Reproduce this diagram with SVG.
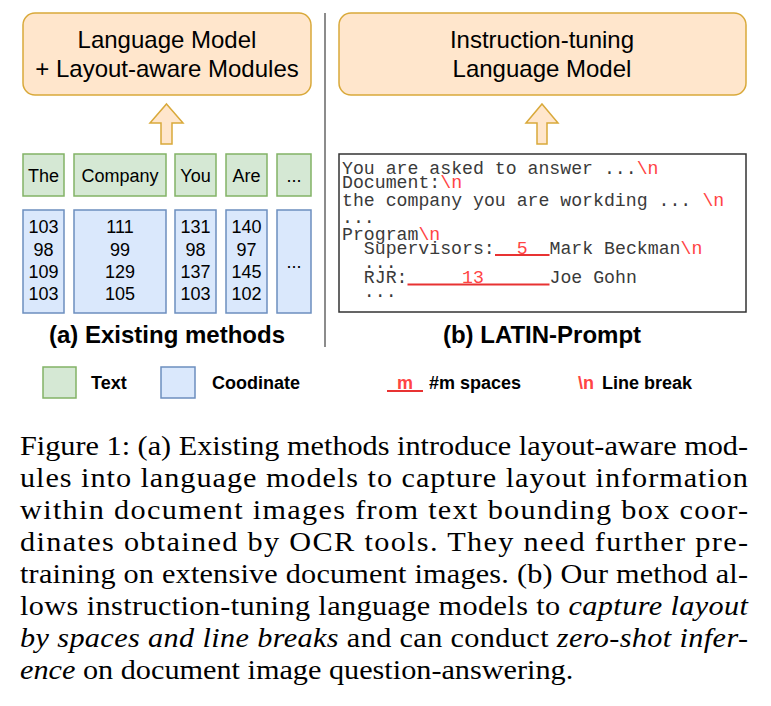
<svg xmlns="http://www.w3.org/2000/svg" width="771" height="706" viewBox="0 0 771 706">
<style>
.top{fill:#ffe6cc;stroke:#d9a93a;stroke-width:1.5}
.arr{fill:#ffe6cc;stroke:#d9a93a;stroke-width:1.5}
.grn{fill:#d5e8d4;stroke:#82b366;stroke-width:1.5}
.blu{fill:#dae8fc;stroke:#6c8ebf;stroke-width:1.5}
.sans{font-family:"Liberation Sans",Arial,sans-serif;fill:#000}
.big{font-size:24px}
.mid{font-size:18px}
.bold{font-weight:bold}
.mono{font-family:"Liberation Mono","Courier New",monospace;font-size:18.2px;fill:#3a3a3a}
.red{fill:#f44}
.ul{stroke:#e83232;stroke-width:2}
.cap{font-family:"Liberation Serif","Times New Roman",serif;font-size:27.5px;fill:#000}
.it{font-style:italic}
</style>

<g id="divider"><line x1="325" y1="13" x2="325" y2="347" stroke="#666" stroke-width="1.5"/></g>

<g id="lm-left">
<rect class="top" x="23" y="13" width="288" height="82" rx="12"/>
<text class="sans big" x="167" y="48" text-anchor="middle">Language Model</text>
<text class="sans big" x="167" y="77" text-anchor="middle">+ Layout-aware Modules</text>
</g>

<g id="lm-right">
<rect class="top" x="339" y="13" width="407" height="82" rx="12"/>
<text class="sans big" x="542" y="48" text-anchor="middle">Instruction-tuning</text>
<text class="sans big" x="542" y="77" text-anchor="middle">Language Model</text>
</g>

<g id="connectors">
<path class="arr" d="M166.5,104 L183,123 L172,123 L172,144 L161,144 L161,123 L150,123 Z"/>
<path class="arr" d="M542,104 L558,123 L547,123 L547,144 L537,144 L537,123 L526,123 Z"/>
</g>

<g id="tok-the"><rect class="grn" x="23" y="154" width="41" height="42"/><text class="sans mid" x="43.5" y="182" text-anchor="middle">The</text></g>
<g id="tok-company"><rect class="grn" x="74" y="154" width="92" height="42"/><text class="sans mid" x="120" y="182" text-anchor="middle">Company</text></g>
<g id="tok-you"><rect class="grn" x="175" y="154" width="41" height="42"/><text class="sans mid" x="195.5" y="182" text-anchor="middle">You</text></g>
<g id="tok-are"><rect class="grn" x="226" y="154" width="41" height="42"/><text class="sans mid" x="246.5" y="182" text-anchor="middle">Are</text></g>
<g id="tok-more"><rect class="grn" x="277" y="154" width="34" height="42"/><text class="sans mid" x="294" y="182" text-anchor="middle">...</text></g>

<g id="coord-the"><rect class="blu" x="23" y="210" width="41" height="103"/>
<text class="sans mid" text-anchor="middle"><tspan x="43.5" y="233">103</tspan><tspan x="43.5" y="255.5">98</tspan><tspan x="43.5" y="278">109</tspan><tspan x="43.5" y="300">103</tspan></text></g>
<g id="coord-company"><rect class="blu" x="74" y="210" width="92" height="103"/>
<text class="sans mid" text-anchor="middle"><tspan x="120" y="233">111</tspan><tspan x="120" y="255.5">99</tspan><tspan x="120" y="278">129</tspan><tspan x="120" y="300">105</tspan></text></g>
<g id="coord-you"><rect class="blu" x="175" y="210" width="41" height="103"/>
<text class="sans mid" text-anchor="middle"><tspan x="195.5" y="233">131</tspan><tspan x="195.5" y="255.5">98</tspan><tspan x="195.5" y="278">137</tspan><tspan x="195.5" y="300">103</tspan></text></g>
<g id="coord-are"><rect class="blu" x="226" y="210" width="41" height="103"/>
<text class="sans mid" text-anchor="middle"><tspan x="246.5" y="233">140</tspan><tspan x="246.5" y="255.5">97</tspan><tspan x="246.5" y="278">145</tspan><tspan x="246.5" y="300">102</tspan></text></g>
<g id="coord-more"><rect class="blu" x="277" y="210" width="34" height="103"/>
<text class="sans mid" x="294" y="268" text-anchor="middle">...</text></g>

<g id="label-a"><text class="sans big bold" x="167" y="343" text-anchor="middle">(a) Existing methods</text></g>

<g id="prompt">
<rect x="339" y="154" width="407" height="158" fill="#fff" stroke="#333" stroke-width="1.5"/>
<text class="mono" x="342" y="174">You are asked to answer ...<tspan class="red">\n</tspan></text>
<text class="mono" x="342" y="188">Document:<tspan class="red">\n</tspan></text>
<text class="mono" x="342" y="206">the company you are workding ... <tspan class="red" x="702.4">\n</tspan></text>
<text class="mono" x="342" y="223">...</text>
<text class="mono" x="342" y="240">Program<tspan class="red">\n</tspan></text>
<text class="mono" x="363.8" y="254">Supervisors:</text>
<line class="ul" x1="495" y1="255" x2="549.5" y2="255"/>
<text class="mono red" x="516.7" y="254">5</text>
<text class="mono" x="549.5" y="254">Mark Beckman<tspan class="red">\n</tspan></text>
<text class="mono" x="363.8" y="268">...</text>
<text class="mono" x="363.8" y="283">RJR:</text>
<line class="ul" x1="407.5" y1="284.5" x2="549.5" y2="284.5"/>
<text class="mono red" x="462.1" y="283">13</text>
<text class="mono" x="549.5" y="283">Joe Gohn</text>
<text class="mono" x="363.8" y="297">...</text>
</g>

<g id="label-b"><text class="sans big bold" x="542" y="343" text-anchor="middle">(b) LATIN-Prompt</text></g>

<g id="legend">
<rect class="grn" x="43" y="367" width="33" height="31"/>
<text class="sans mid bold" x="91" y="389">Text</text>
<rect class="blu" x="161" y="367" width="34" height="31"/>
<text class="sans mid bold" x="212" y="389">Coodinate</text>
<line class="ul" x1="387" y1="391" x2="423" y2="391"/>
<text class="sans mid bold red" x="397" y="389">m</text>
<text class="sans mid bold" x="429" y="389">#m spaces</text>
<text class="sans mid bold red" x="578" y="389">\n</text>
<text class="sans mid bold" x="602" y="389">Line break</text>
</g>

<g id="caption" transform="scale(1.1,1)">
<text class="cap" x="18.2" y="455" textLength="661.8" lengthAdjust="spacing">Figure 1: (a) Existing methods introduce layout-aware mod-</text>
<text class="cap" x="18.2" y="487" textLength="661.8" lengthAdjust="spacing">ules into language models to capture layout information</text>
<text class="cap" x="18.2" y="519" textLength="661.8" lengthAdjust="spacing">within document images from text bounding box coor-</text>
<text class="cap" x="18.2" y="551" textLength="661.8" lengthAdjust="spacing">dinates obtained by OCR tools. They need further pre-</text>
<text class="cap" x="18.2" y="583" textLength="661.8" lengthAdjust="spacing">training on extensive document images. (b) Our method al-</text>
<text class="cap" x="18.2" y="615" textLength="661.8" lengthAdjust="spacing">lows instruction-tuning language models to <tspan class="it">capture layout</tspan></text>
<text class="cap" x="18.2" y="647" textLength="661.8" lengthAdjust="spacing"><tspan class="it">by spaces and line breaks</tspan> and can conduct <tspan class="it">zero-shot infer-</tspan></text>
<text class="cap" x="18.2" y="679"><tspan class="it">ence</tspan> on document image question-answering.</text>
</g>
</svg>
